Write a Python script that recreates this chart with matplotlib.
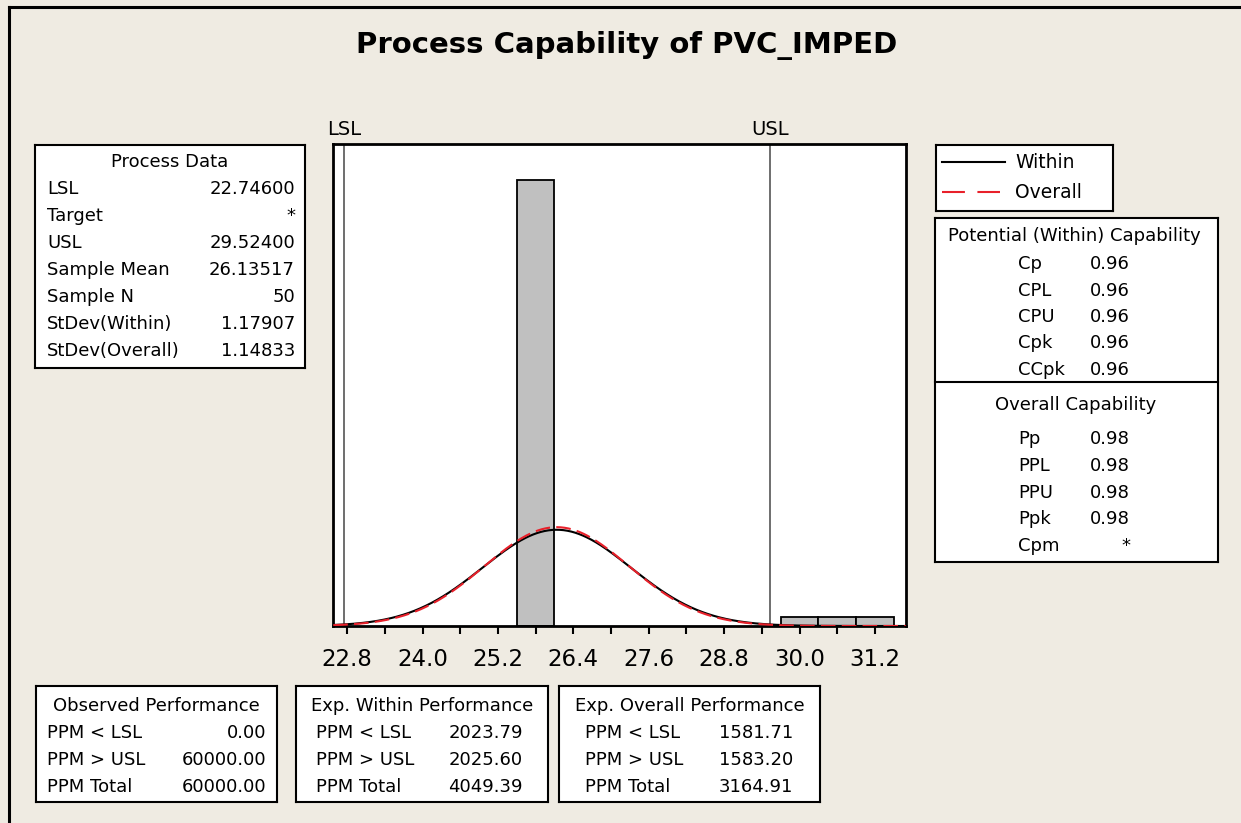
import numpy as np
import matplotlib
matplotlib.use("Agg")
import matplotlib.pyplot as plt
from matplotlib.lines import Line2D

# --- style ---
BG = "#EFEBE2"
BAR = "#C0C0C0"
RED = "#E8202A"
FONT = "DejaVu Sans"
FS = 13
W, H = 1241, 823

plt.rcParams["font.family"] = [FONT]

# --- data ---
lsl, usl = 22.746, 29.524
sample_mean = 26.13517
sample_n = 50
sd_within = 1.17907
sd_overall = 1.14833

bin_lefts = [25.5, 29.7, 30.3, 30.9]
bin_counts = [47, 1, 1, 1]
bin_width = 0.6

tick_values = [22.8, 24.0, 25.2, 26.4, 27.6, 28.8, 30.0, 31.2]

process_labels = ["LSL", "Target", "USL", "Sample Mean", "Sample N",
                  "StDev(Within)", "StDev(Overall)"]
process_values = ["22.74600", "*", "29.52400", "26.13517", "50",
                  "1.17907", "1.14833"]

within_labels = ["Cp", "CPL", "CPU", "Cpk", "CCpk"]
within_values = ["0.96", "0.96", "0.96", "0.96", "0.96"]
overall_labels = ["Pp", "PPL", "PPU", "Ppk", "Cpm"]
overall_values = ["0.98", "0.98", "0.98", "0.98", "*"]

ppm_labels = ["PPM < LSL", "PPM > USL", "PPM Total"]
obs_ppm = ["0.00", "60000.00", "60000.00"]
exp_within_ppm = ["2023.79", "2025.60", "4049.39"]
exp_overall_ppm = ["1581.71", "1583.20", "3164.91"]


def px_rect(x0, y0, x1, y1):
    return [x0 / W, 1 - y1 / H, (x1 - x0) / W, (y1 - y0) / H]


def fx(x):
    return x / W


def fy(y):
    return 1 - y / H


def box(fig, x0, y0, x1, y1):
    ax = fig.add_axes(px_rect(x0, y0, x1, y1))
    ax.set_facecolor("white")
    ax.set_xticks([])
    ax.set_yticks([])
    for s in ax.spines.values():
        s.set_linewidth(1.5)
        s.set_color("black")
    return ax


def normal_curve(x, mu, sd):
    return sample_n * bin_width * np.exp(-0.5 * ((x - mu) / sd) ** 2) / (sd * np.sqrt(2 * np.pi))


fig = plt.figure(figsize=(W / 100, H / 100), dpi=100, facecolor=BG)

# frame lines at top / left of the window
fig.add_artist(Line2D([fx(9), 1], [fy(7), fy(7)], color="black", lw=2.2))
fig.add_artist(Line2D([fx(9), fx(9)], [fy(7), 0], color="black", lw=2.2))

fig.text(fx(627), fy(45), "Process Capability of PVC_IMPED", ha="center", va="center",
         fontsize=21, fontweight="bold")

# =========================
# HISTOGRAM
# =========================
ax = fig.add_axes(px_rect(332.7, 144.3, 906, 626))
ax.set_facecolor("white")
ax.bar(bin_lefts, bin_counts, width=bin_width, align="edge", color=BAR,
       edgecolor="black", linewidth=1.3, zorder=2)

xs = np.linspace(22.58, 31.69, 600)
ax.plot(xs, normal_curve(xs, sample_mean, sd_within), color="black", lw=1.5, zorder=3)
ax.plot(xs, normal_curve(xs, sample_mean, sd_overall), color=RED, lw=1.5,
        dashes=(7, 3), zorder=4)

ax.axvline(lsl, color="#555555", lw=1.2, zorder=1)
ax.axvline(usl, color="#555555", lw=1.2, zorder=1)
ax.text(lsl, 50.8 * 1.012, "LSL", ha="center", va="bottom", fontsize=14)
ax.text(usl, 50.8 * 1.012, "USL", ha="center", va="bottom", fontsize=14)

ax.set_xlim(22.571, 31.693)
ax.set_ylim(0, 50.8)
ax.set_yticks([])
ax.set_xticks(tick_values)
ax.set_xticklabels([f"{t:.1f}" for t in tick_values], fontsize=16.5)
ax.set_xticks([t + 0.6 for t in tick_values[:-1]], minor=True)
ax.tick_params(axis="x", which="both", direction="out", length=6, width=1.5, pad=10)
for s in ax.spines.values():
    s.set_linewidth(2)
    s.set_color("black")

# =========================
# PROCESS DATA BOX
# =========================
box(fig, 35, 145, 305, 368)
fig.text(fx(170), fy(162), "Process Data", ha="center", va="center", fontsize=FS)
for i, (lab, val) in enumerate(zip(process_labels, process_values)):
    y = 189 + i * 27
    fig.text(fx(47), fy(y), lab, ha="left", va="center", fontsize=FS)
    fig.text(fx(295), fy(y), val, ha="right", va="center", fontsize=FS)

# =========================
# LEGEND BOX
# =========================
box(fig, 936, 145, 1113, 211)
fig.add_artist(Line2D([fx(942), fx(1005)], [fy(162), fy(162)], color="black", lw=1.5))
fig.add_artist(Line2D([fx(942), fx(1000)], [fy(192), fy(192)], color=RED, lw=1.5,
                      dashes=(11, 6)))
fig.text(fx(1015), fy(162), "Within", ha="left", va="center", fontsize=13.5)
fig.text(fx(1015), fy(192), "Overall", ha="left", va="center", fontsize=13.5)

# =========================
# CAPABILITY BOX
# =========================
box(fig, 935, 218, 1218, 562)
fig.add_artist(Line2D([fx(935), fx(1218)], [fy(382), fy(382)], color="black", lw=1.5))
fig.text(fx(1074), fy(236), "Potential (Within) Capability", ha="center", va="center",
         fontsize=FS)
for i, (lab, val) in enumerate(zip(within_labels, within_values)):
    y = 264 + i * 26.5
    fig.text(fx(1018), fy(y), lab, ha="left", va="center", fontsize=FS)
    fig.text(fx(1130), fy(y), val, ha="right", va="center", fontsize=FS)
fig.text(fx(1076), fy(405), "Overall Capability", ha="center", va="center", fontsize=FS)
for i, (lab, val) in enumerate(zip(overall_labels, overall_values)):
    y = 439 + i * 26.8
    fig.text(fx(1018), fy(y), lab, ha="left", va="center", fontsize=FS)
    fig.text(fx(1130), fy(y), val, ha="right", va="center", fontsize=FS)

# =========================
# PERFORMANCE BOXES
# =========================
perf = [
    ("Observed Performance", obs_ppm, 36, 277, 47, 266),
    ("Exp. Within Performance", exp_within_ppm, 296, 548, 316, 523),
    ("Exp. Overall Performance", exp_overall_ppm, 559, 820, 585, 793),
]
for title, vals, x0, x1, lx, vx in perf:
    box(fig, x0, 686, x1, 802)
    fig.text(fx((x0 + x1) / 2), fy(706), title, ha="center", va="center", fontsize=FS)
    for i, (lab, val) in enumerate(zip(ppm_labels, vals)):
        y = 733 + i * 27
        fig.text(fx(lx), fy(y), lab, ha="left", va="center", fontsize=FS)
        fig.text(fx(vx), fy(y), val, ha="right", va="center", fontsize=FS)

fig.savefig("out.png", dpi=100, facecolor=BG)
